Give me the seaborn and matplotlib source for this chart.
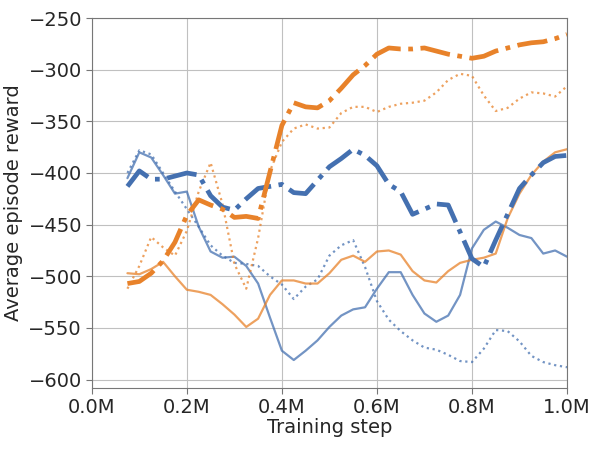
import matplotlib
matplotlib.use("Agg")
import matplotlib.pyplot as plt
from matplotlib.ticker import FuncFormatter
import numpy as np
import pandas as pd
import seaborn as sns

# training steps (in millions)
steps = np.arange(0.075, 1.0001, 0.025)

blue_dashdot = [-413, -398, -406, -406, -403, -400, -402, -422, -433, -436,
                -425, -415, -413, -411, -419, -420, -407, -394, -386, -377,
                -383, -393, -411, -418, -440, -435, -430, -431, -457, -483,
                -491, -465, -440, -415, -402, -390, -384, -383]
orange_dashdot = [-507, -505, -497, -485, -467, -441, -426, -431, -435, -443,
                  -442, -444, -399, -354, -332, -336, -337, -330, -318, -305,
                  -296, -285, -279, -280, -280, -279, -282, -285, -287, -289,
                  -287, -282, -279, -276, -274, -273, -270, -266]
blue_solid = [-405, -380, -385, -402, -420, -418, -452, -476, -482, -481,
              -490, -507, -540, -572, -581, -572, -562, -549, -538, -532,
              -530, -512, -496, -496, -518, -536, -544, -538, -518, -473,
              -455, -447, -453, -460, -463, -478, -475, -481]
blue_dotted = [-400, -378, -382, -400, -418, -435, -452, -470, -480, -487,
               -488, -490, -500, -508, -522, -510, -503, -480, -470, -465,
               -491, -524, -542, -553, -562, -569, -571, -576, -582, -583,
               -570, -552, -553, -563, -577, -583, -586, -588]
orange_solid = [-497, -498, -493, -486, -500, -513, -515, -518, -527, -537,
                -549, -541, -518, -504, -504, -507, -507, -497, -484, -480,
                -486, -476, -475, -479, -495, -504, -506, -495, -487, -484,
                -482, -478, -444, -420, -402, -389, -380, -377]
orange_dotted = [-512, -490, -462, -472, -480, -456, -418, -390, -430, -488,
                 -512, -463, -398, -370, -357, -353, -357, -356, -342, -336,
                 -336, -341, -336, -333, -332, -330, -322, -310, -304, -306,
                 -325, -340, -337, -328, -322, -323, -326, -316]

blue = "#4470b0"
orange = "#e8822a"

sns.set_style("whitegrid", {"axes.edgecolor": "#777777", "grid.color": "#c0c0c0",
                            "xtick.bottom": True, "ytick.left": True})
plt.rcParams["font.family"] = ["DejaVu Sans"]

fig, ax = plt.subplots(figsize=(6, 4.5), dpi=100)
fig.subplots_adjust(left=0.153, right=0.945, top=0.96, bottom=0.138)

x = steps * 1e6
series = [
    (blue_solid, blue, "-", 1.6, 0.75),
    (blue_dotted, blue, ":", 1.6, 0.75),
    (orange_solid, orange, "-", 1.6, 0.75),
    (orange_dotted, orange, ":", 1.6, 0.75),
    (blue_dashdot, blue, "-.", 3.4, 1.0),
    (orange_dashdot, orange, "-.", 3.4, 1.0),
]
for vals, col, ls, lw, a in series:
    sns.lineplot(x=x, y=vals, ax=ax, color=col, linestyle=ls, linewidth=lw, alpha=a)

ax.set_xlim(0, 1e6)
ax.set_ylim(-608, -250)
ax.set_yticks(np.arange(-600, -249, 50))
ax.set_xticks(np.arange(0, 1.01e6, 2e5))
ax.xaxis.set_major_formatter(FuncFormatter(lambda v, p: f"{v / 1e6:.1f}M"))
ax.tick_params(labelsize=14, length=4, color="#777777", pad=3)
ax.set_xlabel("Training step", fontsize=14, labelpad=1)
ax.set_ylabel("Average episode reward", fontsize=14, labelpad=4)

fig.savefig("out.png", dpi=100)
